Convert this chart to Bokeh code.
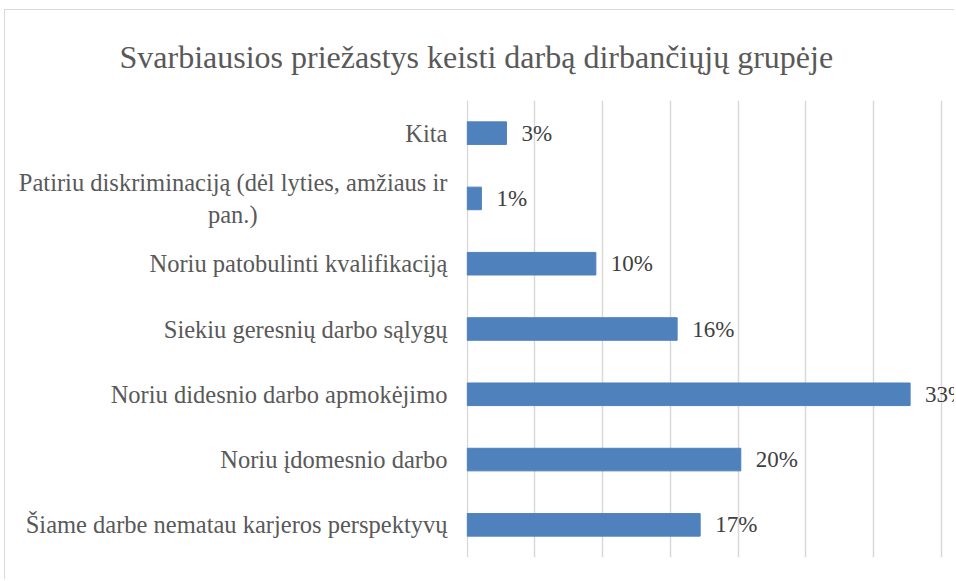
from bokeh.plotting import figure
from bokeh.models import FactorRange, Range1d, FixedTicker, ColumnDataSource, Title
from bokeh.core.properties import value
from bokeh.embed import file_html
from bokeh.resources import INLINE

title_text = "Svarbiausios priežastys keisti darbą dirbančiųjų grupėje"
categories = [
    "Kita",
    "Patiriu diskriminaciją (dėl lyties, amžiaus ir\npan.)",
    "Noriu patobulinti kvalifikaciją",
    "Siekiu geresnių darbo sąlygų",
    "Noriu didesnio darbo apmokėjimo",
    "Noriu įdomesnio darbo",
    "Šiame darbe nematau karjeros perspektyvų",
]
values = [2.9, 1.05, 9.5, 15.5, 32.7, 20.2, 17.2]
value_labels = ["3%", "1%", "10%", "16%", "33%", "20%", "17%"]
grid_ticks = [0, 5, 10, 15, 20, 25, 30, 35]

SERIF = "Liberation Serif"

# second line of the wrapped label is padded so that it sits centred under the first
def center_pad(label):
    if "\n" not in label:
        return label
    first, second = label.split("\n", 1)
    return first + "\n" + second + "\u00a0" * 31

factors = [center_pad(c) for c in categories]

p = figure(
    width=950, height=570,
    y_range=FactorRange(factors=list(reversed(factors)), range_padding=0),
    x_range=Range1d(-0.05, 36.05),
    output_backend="svg", toolbar_location=None,
    min_border_left=461, min_border_right=0,
    min_border_top=90, min_border_bottom=23,
    outline_line_color=None,
)
p.styles = {"margin-top": "9px", "margin-left": "4px",
            "border-top": "1px solid #d9d9d9", "border-left": "1px solid #d9d9d9"}

src = ColumnDataSource(dict(cat=factors, val=values, lab=value_labels))
p.hbar(y="cat", right="val", left=0, height=0.346, source=src,
       fill_color="#4F81BD", line_color="#4F81BD")
p.text(x="val", y="cat", text="lab", source=src, x_offset=15,
       text_baseline="middle", text_align="left",
       text_font=value(SERIF), text_font_size="23px", text_color="#404040")

p.xaxis.visible = False
p.xgrid.ticker = FixedTicker(ticks=grid_ticks)
p.xgrid.grid_line_color = "#d9d9d9"
p.xgrid.grid_line_width = 1.5
p.ygrid.grid_line_color = None

ya = p.yaxis[0]
ya.axis_line_color = None
ya.major_tick_line_color = None
ya.minor_tick_line_color = None
ya.major_label_standoff = 13
ya.major_label_text_font = SERIF
ya.major_label_text_font_size = "24.5px"
ya.major_label_text_color = "#595959"

t = Title(text=title_text, align="left", offset=-347, standoff=51,
          text_font=SERIF, text_font_size="32px", text_font_style="normal",
          text_color="#595959")
p.add_layout(t, "above")

open("out.html", "w").write(file_html(p, INLINE))
